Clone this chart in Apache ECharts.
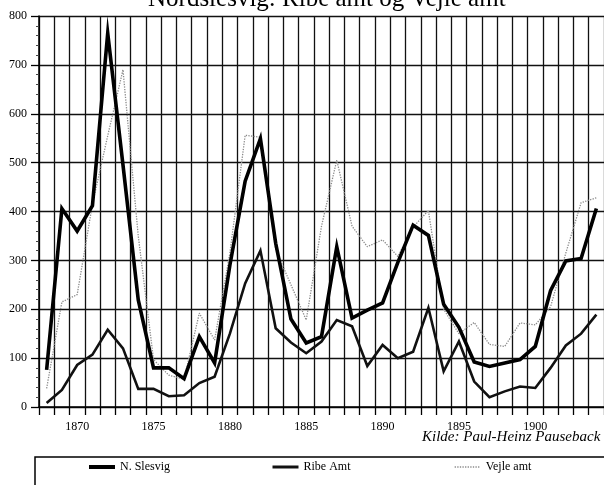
<!DOCTYPE html>
<html>
<head>
<meta charset="utf-8">
<script src="https://cdn.jsdelivr.net/npm/echarts@6/dist/echarts.min.js"></script>
<style>
  html, body { margin: 0; padding: 0; background: #fff; }
  #chart { width: 604px; height: 485px; }
</style>
</head>
<body>
<div id="chart"></div>
<script>
const years = ['1868','1869','1870','1871','1872','1873','1874','1875','1876','1877',
  '1878','1879','1880','1881','1882','1883','1884','1885','1886','1887',
  '1888','1889','1890','1891','1892','1893','1894','1895','1896','1897',
  '1898','1899','1900','1901','1902','1903','1904'];

// N. Slesvig
const nSlesvig = [76, 406, 360, 412, 765, 495, 219, 80, 80, 58,
  144, 90, 290, 462, 549, 335, 180, 131, 144, 328,
  182, 198, 213, 296, 372, 351, 210, 163, 92, 83,
  90, 97, 124, 238, 299, 304, 406];

// Ribe Amt
const ribeAmt = [8, 35, 86, 107, 158, 120, 37, 37, 22, 24,
  49, 62, 150, 253, 320, 161, 132, 110, 134, 178,
  165, 84, 127, 100, 113, 203, 73, 134, 52, 20,
  32, 42, 39, 80, 126, 150, 189];

// Vejle amt
const vejleAmt = [38, 215, 230, 415, 555, 690, 350, 97, 65, 57,
  192, 137, 315, 556, 552, 322, 250, 178, 370, 505,
  370, 328, 342, 308, 368, 402, 200, 150, 173, 128,
  124, 172, 168, 205, 315, 418, 428];

const yTicks = { min: 0, max: 800, step: 100 };

const serif = '"Liberation Serif", "DejaVu Serif", serif';
const gridLine = { color: '#111', width: 1.3 };

const chart = echarts.init(document.getElementById('chart'));

// one legend per item so each can sit where the original puts it
function legendAt(name, left, lineWidth) {
  return {
    data: [name],
    left: left,
    top: 461,
    padding: 0,
    itemWidth: 26,
    itemHeight: 14,
    itemGap: 0,
    itemStyle: { opacity: 0 },
    lineStyle: { width: lineWidth },
    textStyle: { fontFamily: serif, fontSize: 12, color: '#000' }
  };
}

const option = {
  animation: false,
  backgroundColor: '#fff',
  title: {
    text: 'Nordslesvig: Ribe amt og Vejle amt',
    left: 148,
    top: -13,
    padding: 0,
    textStyle: { fontFamily: serif, fontSize: 25, fontWeight: 'normal', color: '#000', lineHeight: 25 }
  },
  legend: [
    legendAt('N. Slesvig', 87, 4),
    legendAt('Ribe Amt', 271, 3),
    legendAt('Vejle amt', 454, 1.3)
  ],
  grid: { left: 39, right: 0, top: 16, bottom: 78 },
  xAxis: {
    type: 'category',
    data: years,
    boundaryGap: true,
    axisLine: { lineStyle: { color: '#000', width: 1.5 } },
    axisTick: { show: true, interval: 0, length: 8, lineStyle: { color: '#000', width: 1.3 } },
    axisLabel: {
      interval: (idx, val) => Number(val) % 5 === 0,
      margin: 14,
      fontFamily: serif,
      fontSize: 12,
      color: '#000'
    },
    splitLine: { show: true, interval: 0, lineStyle: gridLine }
  },
  yAxis: {
    type: 'value',
    min: yTicks.min,
    max: yTicks.max,
    interval: yTicks.step,
    axisLine: { show: true, lineStyle: { color: '#000', width: 1.5 } },
    axisTick: { show: true, length: 8, lineStyle: { color: '#000', width: 1.3 } },
    minorTick: { show: true, splitNumber: 5, length: 3, lineStyle: { color: '#444', width: 1 } },
    axisLabel: { margin: 12, fontFamily: serif, fontSize: 12, color: '#000' },
    splitLine: { show: true, lineStyle: gridLine }
  },
  graphic: [
    {
      type: 'text',
      left: 422,
      top: 430,
      style: { text: 'Kilde: Paul-Heinz Pauseback', font: 'italic 15px ' + serif, fill: '#000' }
    },
    {
      type: 'rect',
      shape: { x: 35, y: 457, width: 620, height: 60 },
      style: { fill: 'none', stroke: '#000', lineWidth: 1.5 }
    }
  ],
  series: [
    {
      name: 'N. Slesvig',
      type: 'line',
      data: nSlesvig,
      symbol: 'none',
      lineStyle: { color: '#000', width: 3.6, join: 'miter' },
      itemStyle: { color: '#000' },
      z: 4
    },
    {
      name: 'Ribe Amt',
      type: 'line',
      data: ribeAmt,
      symbol: 'none',
      lineStyle: { color: '#111', width: 2.6, join: 'miter' },
      itemStyle: { color: '#111' },
      z: 3
    },
    {
      name: 'Vejle amt',
      type: 'line',
      data: vejleAmt,
      symbol: 'none',
      lineStyle: { color: '#8a8a8a', width: 1.3, type: 'dotted' },
      itemStyle: { color: '#8a8a8a' },
      z: 2
    }
  ]
};

chart.setOption(option);
</script>
</body>
</html>
